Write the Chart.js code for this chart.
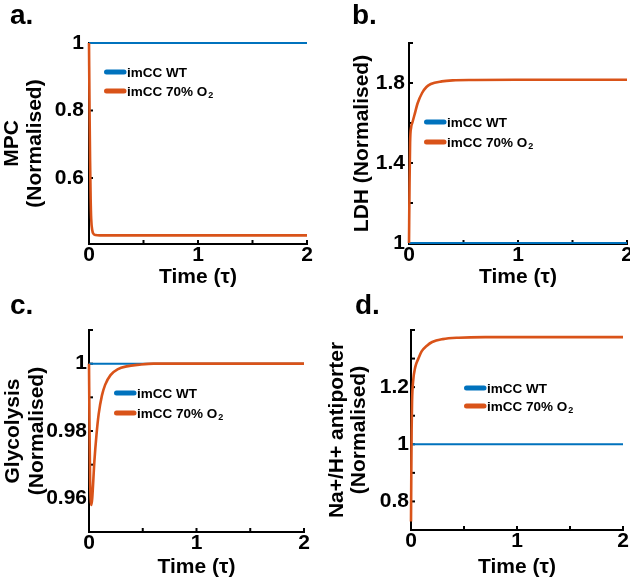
<!DOCTYPE html>
<html>
<head>
<meta charset="utf-8">
<script src="https://cdn.jsdelivr.net/npm/chart.js@4.4.0/dist/chart.umd.min.js"></script>
<style>
  body { margin: 0; background: #fff; }
  #fig { position: relative; width: 630px; height: 580px; background: #fff; overflow: hidden; }
  .panel { position: absolute; width: 315px; height: 290px; }
  .letter { position: absolute; font: bold 28px "Liberation Sans", Arial, sans-serif; line-height: 1; color: #000; }
</style>
</head>
<body>
<div id="fig">
  <div class="panel" style="left:0;top:0"><canvas id="cA" width="315" height="290"></canvas></div>
  <div class="panel" style="left:315px;top:0"><canvas id="cB" width="315" height="290"></canvas></div>
  <div class="panel" style="left:0;top:290px"><canvas id="cC" width="315" height="290"></canvas></div>
  <div class="panel" style="left:315px;top:290px"><canvas id="cD" width="315" height="290"></canvas></div>
  <div class="letter" style="left:10px;top:1px">a.</div>
  <div class="letter" style="left:352px;top:1px">b.</div>
  <div class="letter" style="left:10px;top:291px">c.</div>
  <div class="letter" style="left:355px;top:291px">d.</div>
</div>
<script>
// shared time axis
const timeTicks = [0, 0.5, 1, 1.5, 2];
const timeLabels = ['0', '', '1', '', '2'];

// WT is flat at 1 in every panel
const wtTime = [0, 1, 2];
const wtValues = [1, 1, 1];

// a. MPC
const mpcTime = [0, 0.005, 0.01, 0.015, 0.02, 0.03, 0.04, 0.06, 0.1, 0.5, 1, 1.5, 2];
const mpcO2 = [1, 0.8, 0.65, 0.54, 0.48, 0.445, 0.435, 0.431, 0.43, 0.43, 0.43, 0.43, 0.43];
const mpcTicks = [0.6, 0.8, 1];
const mpcTickLabels = ['0.6', '0.8', '1'];

// b. LDH
const ldhTime = [0, 0.005, 0.01, 0.02, 0.03, 0.05, 0.08, 0.12, 0.16, 0.2, 0.3, 0.4, 0.6, 1, 2];
const ldhO2 = [1, 1.3, 1.5, 1.58, 1.6, 1.64, 1.7, 1.75, 1.78, 1.795, 1.808, 1.813, 1.815, 1.816, 1.816];
const ldhTicks = [1, 1.2, 1.4, 1.6, 1.8, 2];
const ldhTickLabels = ['1', '', '1.4', '', '1.8', ''];

// c. Glycolysis
const glyTime = [0, 0.005, 0.01, 0.015, 0.022, 0.03, 0.05, 0.07, 0.09, 0.12, 0.15, 0.2, 0.27, 0.35, 0.47, 0.6, 1, 2];
const glyO2 = [1, 0.98, 0.966, 0.96, 0.958, 0.96, 0.971, 0.979, 0.985, 0.9905, 0.9937, 0.9966, 0.9984, 0.9992, 0.9997, 1, 1, 1];
const glyTicks = [0.95, 0.96, 0.97, 0.98, 0.99, 1, 1.01];
const glyTickLabels = ['', '0.96', '', '0.98', '', '1', ''];

// d. Na+/H+ antiporter
const nheTime = [0, 0.003, 0.006, 0.01, 0.02, 0.04, 0.07, 0.1, 0.15, 0.2, 0.3, 0.45, 0.7, 1, 2];
const nheO2 = [0.73, 0.9, 1.05, 1.15, 1.22, 1.27, 1.3, 1.325, 1.345, 1.358, 1.368, 1.373, 1.375, 1.375, 1.375];
const nheTicks = [0.7, 0.8, 0.9, 1, 1.1, 1.2, 1.3, 1.4];
const nheTickLabels = ['', '0.8', '', '1', '', '1.2', '', ''];

const BLUE = '#0072BD';
const RED = '#D95319';

Chart.defaults.font.family = '"Liberation Sans", Arial, sans-serif';
Chart.defaults.font.weight = 'bold';
Chart.defaults.color = '#000';

// inward matlab style ticks + the little legend
const matlabBits = {
    id: 'matlabBits',
    beforeDatasetsDraw(chart) {
        const ctx = chart.ctx;
        const area = chart.chartArea;
        ctx.save();
        ctx.strokeStyle = '#000';
        ctx.lineWidth = 2;
        chart.scales.x.ticks.forEach(t => {
            const px = chart.scales.x.getPixelForValue(t.value);
            ctx.beginPath();
            ctx.moveTo(px, area.bottom);
            ctx.lineTo(px, area.bottom - 4);
            ctx.stroke();
        });
        chart.scales.y.ticks.forEach(t => {
            const py = chart.scales.y.getPixelForValue(t.value);
            ctx.beginPath();
            ctx.moveTo(area.left, py);
            ctx.lineTo(area.left + 4, py);
            ctx.stroke();
        });
        ctx.restore();
    },
    afterDatasetsDraw(chart, args, opts) {
        const ctx = chart.ctx;
        ctx.save();
        chart.data.datasets.forEach((ds, i) => {
            const yy = opts.y + i * opts.gap;
            ctx.strokeStyle = ds.borderColor;
            ctx.lineWidth = 5;
            ctx.lineCap = 'round';
            ctx.beginPath();
            ctx.moveTo(opts.x + 2.5, yy);
            ctx.lineTo(opts.x + 20, yy);
            ctx.stroke();
            ctx.fillStyle = '#000';
            ctx.textBaseline = 'middle';
            // "_2" in the label becomes a real subscript
            const parts = ds.label.split('_');
            ctx.font = 'bold 13.5px "Liberation Sans", Arial, sans-serif';
            ctx.fillText(parts[0], opts.x + 23, yy + 1);
            if (parts[1]) {
                const w = ctx.measureText(parts[0]).width;
                ctx.font = 'bold 9px "Liberation Sans", Arial, sans-serif';
                ctx.fillText(parts[1], opts.x + 24 + w, yy + 5);
            }
        });
        ctx.restore();
    }
};

function points(xs, ys) {
    return xs.map((x, i) => ({ x: x, y: ys[i] }));
}

function makePanel(id, p) {
    return new Chart(document.getElementById(id), {
        type: 'line',
        data: {
            datasets: [
                {
                    label: 'imCC WT',
                    data: points(wtTime, wtValues),
                    borderColor: BLUE,
                    borderWidth: 2,
                    pointRadius: 0,
                    clip: 4,
                    order: 1
                },
                {
                    label: 'imCC 70% O_2',
                    data: points(p.time, p.values),
                    borderColor: RED,
                    borderWidth: 2.6,
                    pointRadius: 0,
                    cubicInterpolationMode: 'monotone',
                    clip: 4,
                    order: 0
                }
            ]
        },
        options: {
            responsive: false,
            animation: false,
            events: [],
            layout: {
                autoPadding: false,
                padding: { left: 0, right: 315 - p.right, top: p.top, bottom: 0 }
            },
            plugins: {
                legend: { display: false },
                tooltip: { enabled: false },
                matlabBits: p.legend
            },
            scales: {
                x: {
                    type: 'linear',
                    min: 0,
                    max: 2,
                    grid: { display: false, drawTicks: false },
                    border: { display: true, color: '#000', width: 2 },
                    afterBuildTicks: s => { s.ticks = timeTicks.map(v => ({ value: v })); },
                    afterFit: s => { s.height = 290 - p.bottom; s.paddingLeft = 0; s.paddingRight = 0; },
                    ticks: {
                        font: { size: 21, lineHeight: 1.2 },
                        padding: -1,
                        maxRotation: 0,
                        callback: (v, i) => timeLabels[i]
                    },
                    title: {
                        display: true,
                        text: 'Time (\u03C4)',
                        font: { size: 21, lineHeight: 1.2 },
                        padding: { top: 0, bottom: 0 }
                    }
                },
                y: {
                    type: 'linear',
                    min: p.yMin,
                    max: p.yMax,
                    grid: { display: false, drawTicks: false },
                    border: { display: true, color: '#000', width: 2 },
                    afterBuildTicks: s => { s.ticks = p.yTicks.map(v => ({ value: v })); },
                    afterFit: s => { s.width = p.left; s.paddingTop = 0; s.paddingBottom = 0; },
                    ticks: {
                        font: { size: 21 },
                        padding: p.tickPad,
                        callback: (v, i) => p.yLabels[i]
                    },
                    title: {
                        display: true,
                        text: p.yTitle,
                        font: { size: 21, lineHeight: p.titleLH },
                        padding: { top: p.titlePad, bottom: 0 }
                    }
                }
            }
        },
        plugins: [matlabBits]
    });
}

makePanel('cA', {
    time: mpcTime, values: mpcO2,
    left: 89, right: 307, top: 43, bottom: 244,
    yMin: 0.4044, yMax: 1, yTicks: mpcTicks, yLabels: mpcTickLabels,
    yTitle: ['MPC', '(Normalised)'], titleLH: 1.1, titlePad: 1, tickPad: 5,
    legend: { x: 104, y: 72, gap: 19 }
});

makePanel('cB', {
    time: ldhTime, values: ldhO2,
    left: 94, right: 312, top: 43, bottom: 244,
    yMin: 0.995, yMax: 2, yTicks: ldhTicks, yLabels: ldhTickLabels,
    yTitle: 'LDH (Normalised)', titleLH: 1.1, titlePad: 36, tickPad: 4,
    legend: { x: 109, y: 122, gap: 20 }
});

makePanel('cC', {
    time: glyTime, values: glyO2,
    left: 89, right: 304, top: 40, bottom: 242,
    yMin: 0.95, yMax: 1.01, yTicks: glyTicks, yLabels: glyTickLabels,
    yTitle: ['Glycolysis', '(Normalised)'], titleLH: 1.15, titlePad: 1, tickPad: 2,
    legend: { x: 114, y: 103, gap: 20 }
});

makePanel('cD', {
    time: nheTime, values: nheO2,
    left: 96, right: 308, top: 40, bottom: 240,
    yMin: 0.7, yMax: 1.4, yTicks: nheTicks, yLabels: nheTickLabels,
    yTitle: ['Na+/H+ antiporter', '(Normalised)'], titleLH: 1.05, titlePad: 11, tickPad: 2,
    legend: { x: 149, y: 98, gap: 18 }
});
</script>
</body>
</html>
